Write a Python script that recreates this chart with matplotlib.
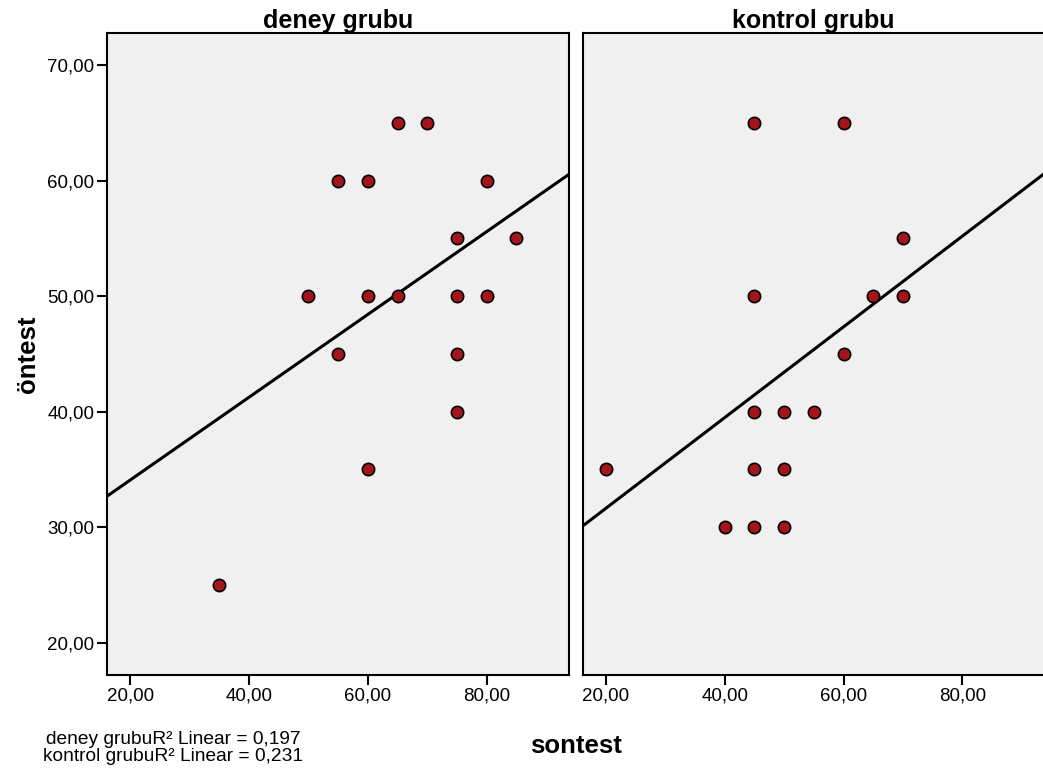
import matplotlib.pyplot as plt
from matplotlib.ticker import FuncFormatter

plt.rcParams['font.family'] = ['Liberation Sans', 'DejaVu Sans']

# deney grubu (sontest, öntest)
deney_sontest = [35, 50, 55, 55, 60, 60, 60, 65, 65, 70, 75, 75, 75, 75, 80, 80, 85]
deney_ontest = [25, 50, 60, 45, 60, 50, 35, 65, 50, 65, 55, 50, 45, 40, 60, 50, 55]

# kontrol grubu (sontest, öntest)
kontrol_sontest = [20, 40, 45, 45, 45, 45, 45, 50, 50, 50, 55, 60, 60, 65, 70, 70]
kontrol_ontest = [35, 30, 65, 50, 40, 35, 30, 40, 35, 30, 40, 65, 45, 50, 55, 50]

# fit lines (intercept, slope)
deney_fit = (26.91, 0.3584)
kontrol_fit = (23.78, 0.3927)

r2_deney = "0,197"
r2_kontrol = "0,231"

x_ticks = [20, 40, 60, 80]
y_ticks = [20, 30, 40, 50, 60, 70]
xlim = (16.1, 93.85)
ylim = (17.23, 72.77)

fmt = FuncFormatter(lambda v, p: f"{v:.2f}".replace(".", ","))

fig = plt.figure(figsize=(10.43, 7.69), dpi=100)
ax1 = fig.add_axes([0.1026, 0.1226, 0.443, 0.8345])
ax2 = fig.add_axes([0.5587, 0.1226, 0.443, 0.8345])

panels = [(ax1, deney_sontest, deney_ontest, deney_fit, "deney grubu"),
          (ax2, kontrol_sontest, kontrol_ontest, kontrol_fit, "kontrol grubu")]

for ax, xs, ys, fit, title in panels:
    ax.set_facecolor('#f0f0f0')
    ax.scatter(xs, ys, s=78, color='#a3151b', edgecolor='black', linewidth=1.2, zorder=3)
    b0, b1 = fit
    ax.plot(list(xlim), [b0 + b1 * xlim[0], b0 + b1 * xlim[1]], color='black', lw=2.2, zorder=2)
    ax.set_xlim(*xlim)
    ax.set_ylim(*ylim)
    ax.set_xticks(x_ticks)
    ax.set_yticks(y_ticks)
    ax.xaxis.set_major_formatter(fmt)
    ax.yaxis.set_major_formatter(fmt)
    ax.tick_params(length=7, width=1.5, labelsize=13.5, pad=2, color='black')
    for s in ax.spines.values():
        s.set_linewidth(1.5)
    ax.set_title(title, fontsize=18, fontweight='bold', pad=3)

ax2.tick_params(axis='y', left=False, labelleft=False)

ax1.set_ylabel("öntest", fontsize=18.5, fontweight='bold', labelpad=5)
fig.text(0.552, 0.03, "sontest", fontsize=18.5, fontweight='bold', ha='center', va='center')

fig.text(0.166, 0.027,
         "deney grubuR² Linear = " + r2_deney + "\nkontrol grubuR² Linear = " + r2_kontrol,
         fontsize=13.8, ha='center', va='center', linespacing=1.0)

fig.savefig("out.png", dpi=100)
